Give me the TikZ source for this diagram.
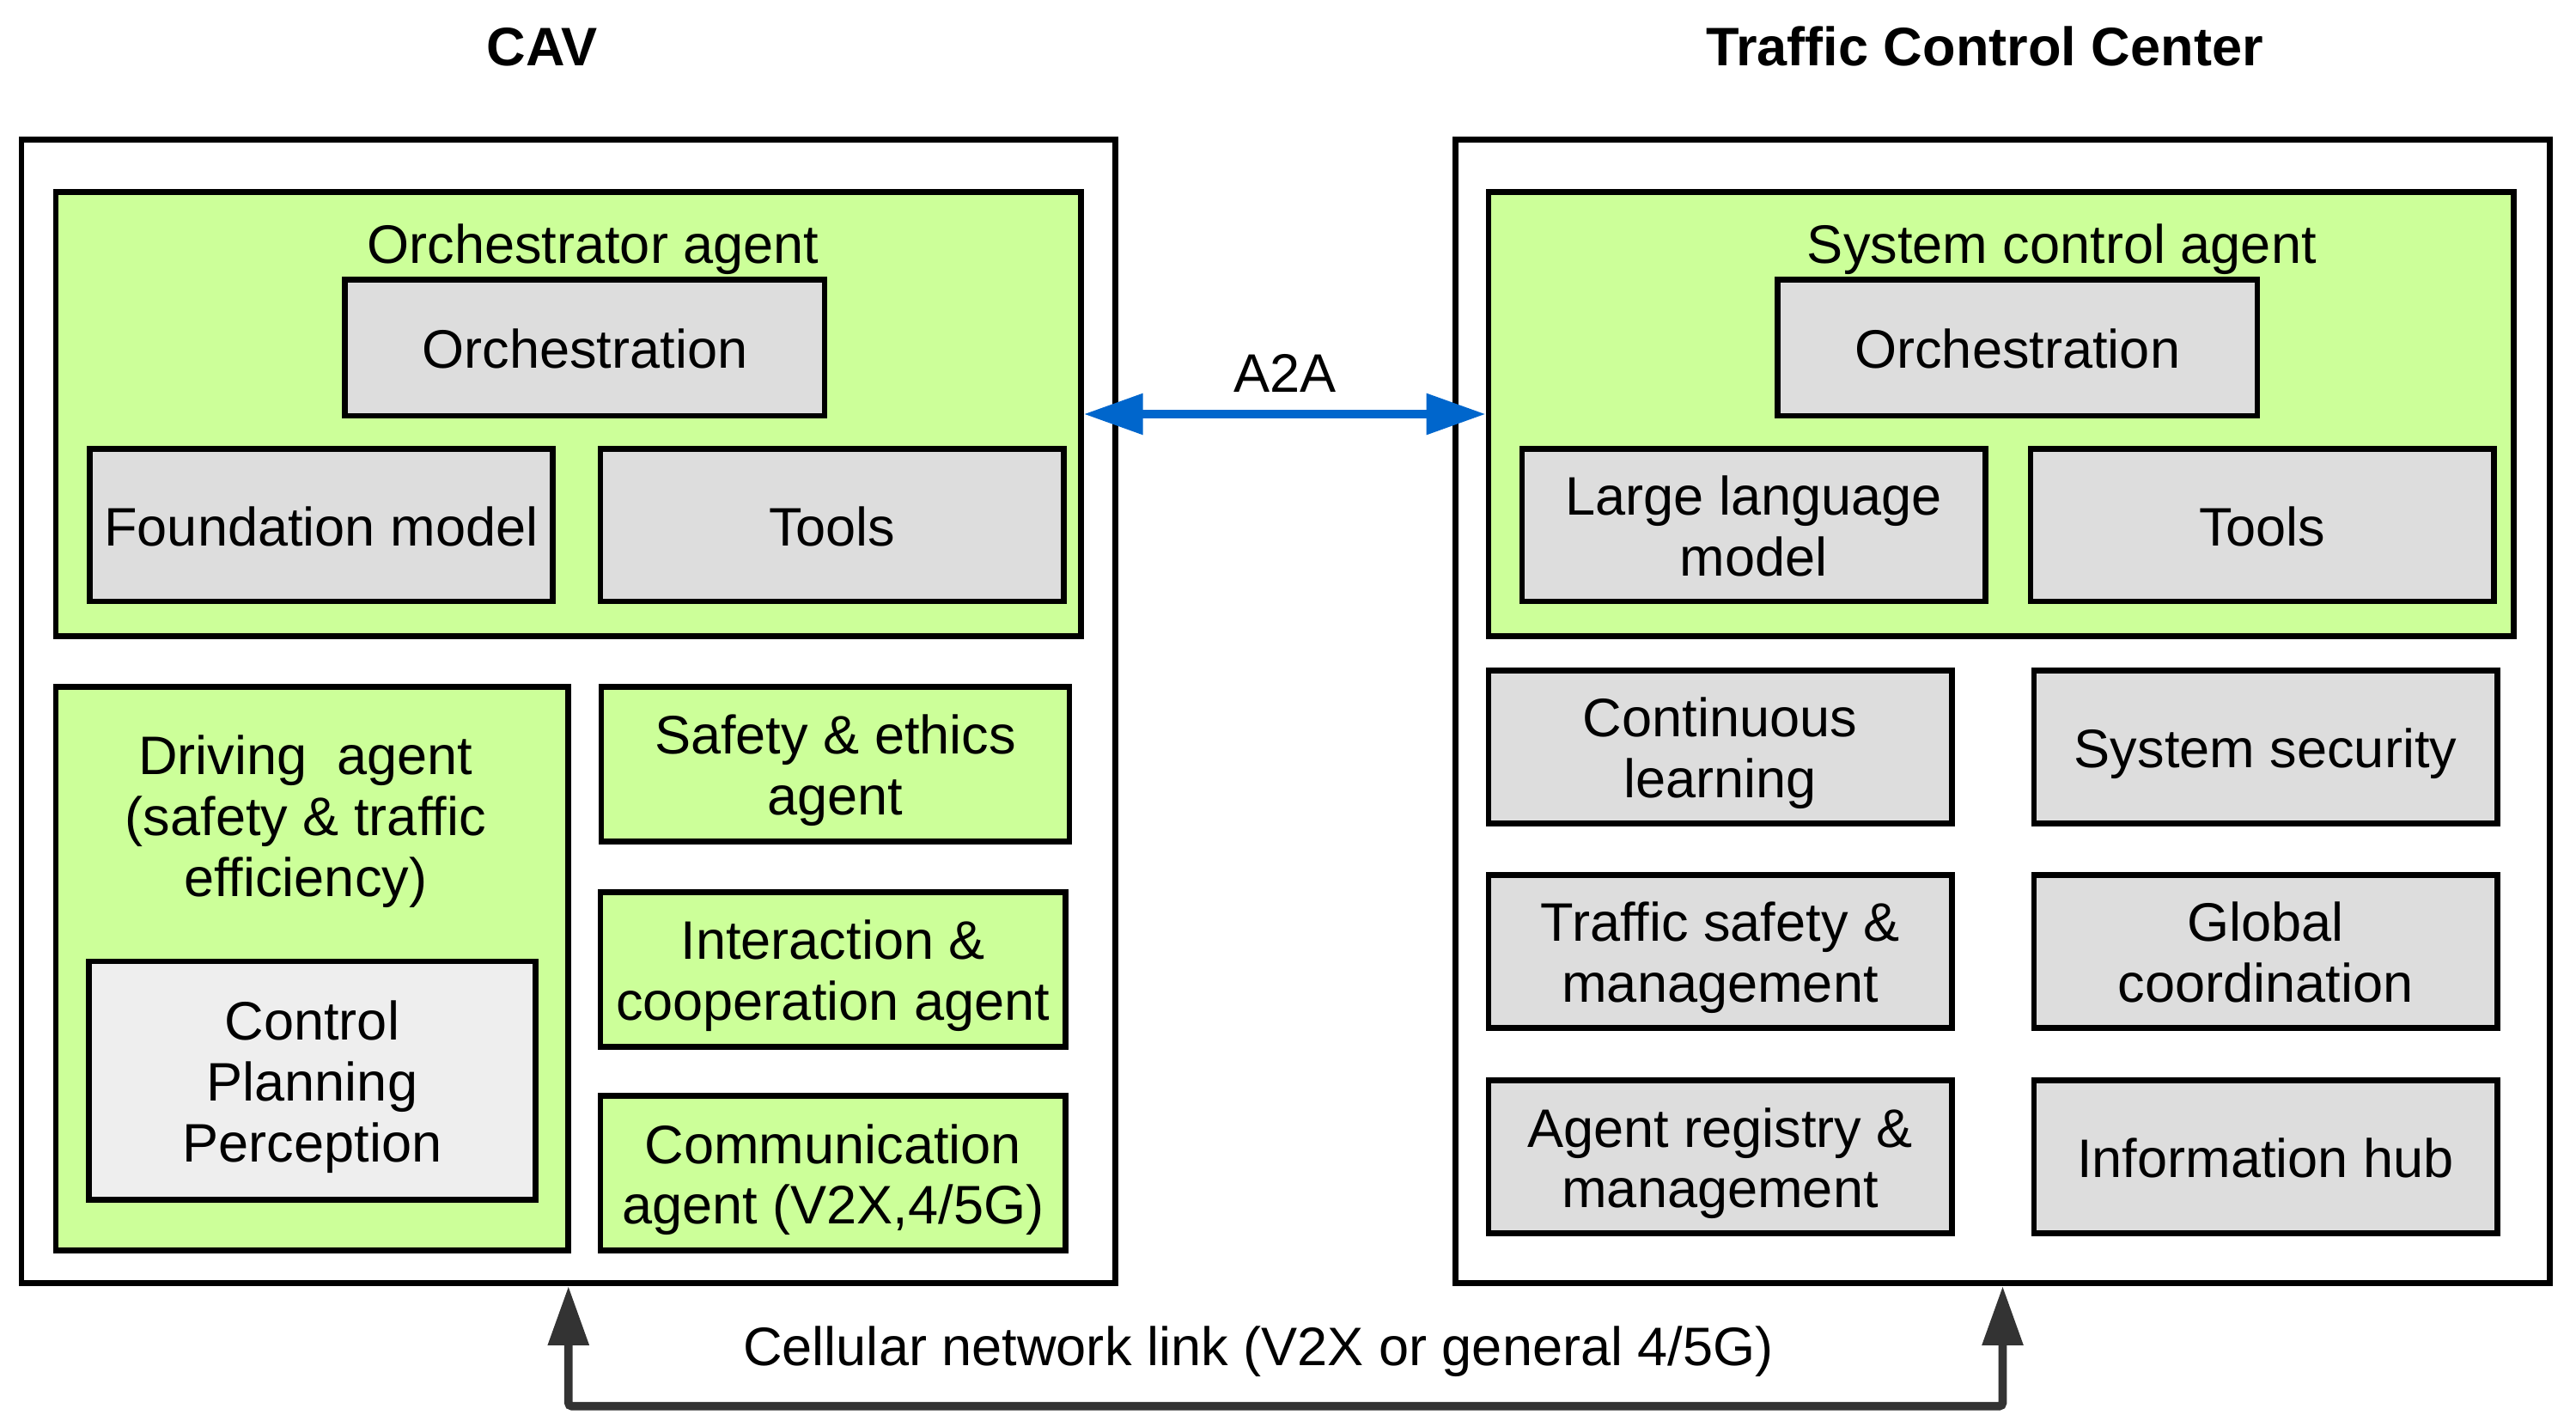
\documentclass[tikz,border=0pt]{standalone}
\usepackage{fontspec}
\setmainfont{Liberation Sans}
\usepackage{xcolor}
\usepackage{tikz}
\usetikzlibrary{arrows.meta}

\definecolor{agentgreen}{HTML}{CCFF99}
\definecolor{partgray}{HTML}{DDDDDD}
\definecolor{corelight}{HTML}{EEEEEE}
\definecolor{linkblue}{HTML}{0066CC}
\definecolor{linkdark}{HTML}{333333}
\newcommand{\linestrut}{\rule[-7.5pt]{0pt}{40pt}}

\begin{document}
\begin{tikzpicture}[x=1pt,y=-1pt,
  every node/.style={font=\fontsize{33}{37}\selectfont,align=center,inner sep=2pt,
    execute at begin node=\linestrut,execute at end node=\linestrut},
  title/.style={font=\fontsize{33}{37}\selectfont\bfseries},
  frame/.style={draw,line width=3.5pt,minimum width=666pt,minimum height=696pt},
  agent/.style={draw,fill=agentgreen,line width=3.5pt,minimum width=283pt,minimum height=94pt},
  part/.style={draw,fill=partgray,line width=3.5pt,minimum width=282pt,minimum height=93pt},
  core/.style={draw,fill=corelight,line width=3.5pt,minimum width=272pt,minimum height=145pt},
  a2a/.style={draw=linkblue,line width=5pt,{Triangle[length=36pt,width=24pt]}-{Triangle[length=36pt,width=24pt]}},
  cell/.style={draw=linkdark,line width=5pt,rounded corners=2pt,{Triangle[length=36pt,width=24pt]}-{Triangle[length=36pt,width=24pt]}}]
  \useasboundingbox (0,0) rectangle (1568,868);
  \node[title] (cavtitle) at (330,27.5) {CAV};
  \node[title] (tcctitle) at (1208,27.5) {Traffic Control Center};
  \node[frame] (cav) at (346,433) {};
  \node[frame] (tcc) at (1219,433) {};
  \node[agent,minimum width=624pt,minimum height=270pt] (orch) at (346,252) {};
  \node (orchlabel) at (361,147.5) {Orchestrator agent};
  \node[part,minimum width=292pt,minimum height=83pt] (orchcav) at (356,211.5) {Orchestration};
  \node[part] (found) at (195.5,319.5) {Foundation model};
  \node[part] (toolscav) at (506.5,319.5) {Tools};
  \node[agent,minimum width=312pt,minimum height=343pt] (drive) at (190,589.5) {};
  \node (drivelabel) at (186,496) {\linestrut Driving\ \ agent\\(safety \& traffic\\efficiency)};
  \node[core] (drivecore) at (190,657.5) {\linestrut Control\\Planning\\Perception};
  \node[agent,minimum width=285pt] (safety) at (508.5,465) {\linestrut Safety \& ethics\\agent};
  \node[agent] (interact) at (507,590) {\linestrut Interaction \&\\cooperation agent};
  \node[agent] (comm) at (507,714) {\linestrut Communication\\agent (V2X,4/5G)};
  \node[agent,minimum width=624pt,minimum height=270pt] (sysctl) at (1218,252) {};
  \node (syslabel) at (1255,147.5) {System control agent};
  \node[part,minimum width=292pt,minimum height=83pt] (orchtcc) at (1228,211.5) {Orchestration};
  \node[part] (llm) at (1067.5,319.5) {\linestrut Large language\\model};
  \node[part] (toolstcc) at (1377,319.5) {Tools};
  \node[part] (learn) at (1047,454.5) {\linestrut Continuous\\learning};
  \node[part] (secure) at (1379,454.5) {System security};
  \node[part] (tsafety) at (1047,579) {\linestrut Traffic safety \&\\management};
  \node[part] (global) at (1379,579) {\linestrut Global\\coordination};
  \node[part] (registry) at (1047,704) {\linestrut Agent registry \&\\management};
  \node[part] (infohub) at (1379,704) {Information hub};
  \draw[a2a] (orch.east) -- node[above=1.5pt] (a2alabel) {A2A} (sysctl.west);
  \draw[cell] (cav.south) -- ++(0,73) -| (tcc.south);
  \node (celllabel) at (766,818.5) {Cellular network link (V2X or general 4/5G)};
\end{tikzpicture}
\end{document}
